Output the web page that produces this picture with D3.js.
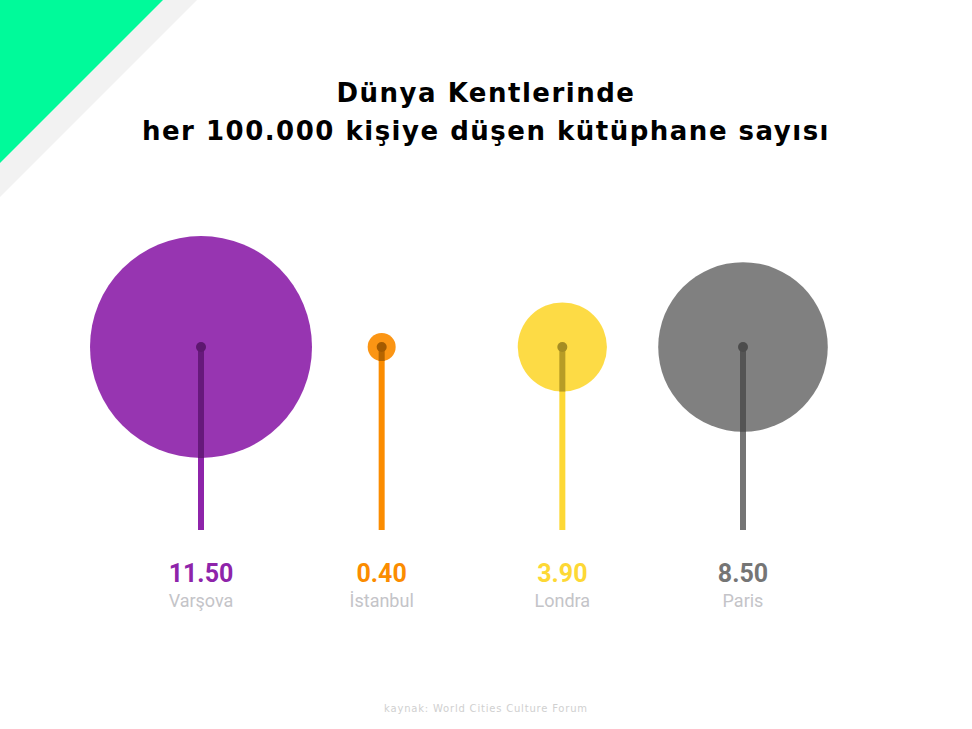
<!DOCTYPE html>
<html><head><meta charset="utf-8">
<script src="https://cdn.jsdelivr.net/npm/d3@7"></script>
<style>body{margin:0;background:#fff}</style>
</head><body>
<svg id="chart" width="972" height="729"></svg>
<script>
'use strict';

let cities = ["Varşova", "İstanbul", "Londra", "Paris"],
    values = [11.5, 0.4, 3.9, 8.5],
    colors = ["#8e24aa", "#fb8c00", "#fdd835", "#757575"];

let svg = d3.select("#chart"),
    x = d3.scalePoint().domain(cities).range([201, 743]),
    r = d3.scaleLinear().domain([0.4, 11.5]).range([14, 111]),
    cy = 347, stemBottom = 530;

// corner decoration
svg.append("path").attr("d", "M0,0L197,0L0,197Z").attr("fill", "#f2f2f2");
svg.append("path").attr("d", "M0,0L163,0L0,163Z").attr("fill", "#00fa9a");

svg.append("g").selectAll("text")
    .data(["Dünya Kentlerinde", "her 100.000 kişiye düşen kütüphane sayısı"])
  .enter().append("text")
    .attr("x", 486)
    .attr("y", function(d, i) { return 102 + i * 38; })
    .attr("text-anchor", "middle")
    .style("font-family", "'DejaVu Sans', sans-serif")
    .style("font-weight", "bold")
    .style("font-size", "26px")
    .style("letter-spacing", "1.5px")
    .text(function(d) { return d; });

let data = cities.map(function(c, i) { return {city: c, value: values[i], color: colors[i]}; });

let g = svg.selectAll(".city").data(data).enter().append("g")
    .attr("class", "city")
    .attr("transform", function(d) { return "translate(" + x(d.city) + ",0)"; });

g.append("line")
    .attr("y1", cy).attr("y2", stemBottom)
    .attr("stroke", function(d) { return d.color; })
    .attr("stroke-width", 6);

g.append("circle")
    .attr("cy", cy)
    .attr("r", function(d) { return r(d.value); })
    .attr("fill", function(d) { return d.color; })
    .attr("opacity", 0.92);

g.append("line")
    .attr("y1", cy)
    .attr("y2", function(d) { return Math.min(stemBottom, cy + r(d.value)); })
    .attr("stroke", function(d) { return d3.color(d.color).darker(1.2); })
    .attr("stroke-opacity", 0.8)
    .attr("stroke-width", 6);

g.append("circle")
    .attr("cy", cy).attr("r", 5)
    .attr("fill", function(d) { return d3.color(d.color).darker(1.2); });

g.append("text")
    .attr("y", 582)
    .attr("text-anchor", "middle")
    .style("font-family", "Roboto, sans-serif")
    .style("font-weight", "bold")
    .style("font-size", "25px")
    .attr("fill", function(d) { return d.color; })
    .text(function(d) { return d.value.toFixed(2); });

g.append("text")
    .attr("y", 607)
    .attr("text-anchor", "middle")
    .style("font-family", "Roboto, sans-serif")
    .style("font-size", "18px")
    .attr("fill", "#c4c4c8")
    .text(function(d) { return d.city; });

svg.append("text")
    .attr("x", 486).attr("y", 712)
    .attr("text-anchor", "middle")
    .style("font-family", "'DejaVu Sans', sans-serif")
    .style("font-size", "10px")
    .style("letter-spacing", "0.8px")
    .attr("fill", "#d0d0d0")
    .text("kaynak: World Cities Culture Forum");
</script>
</body></html>
